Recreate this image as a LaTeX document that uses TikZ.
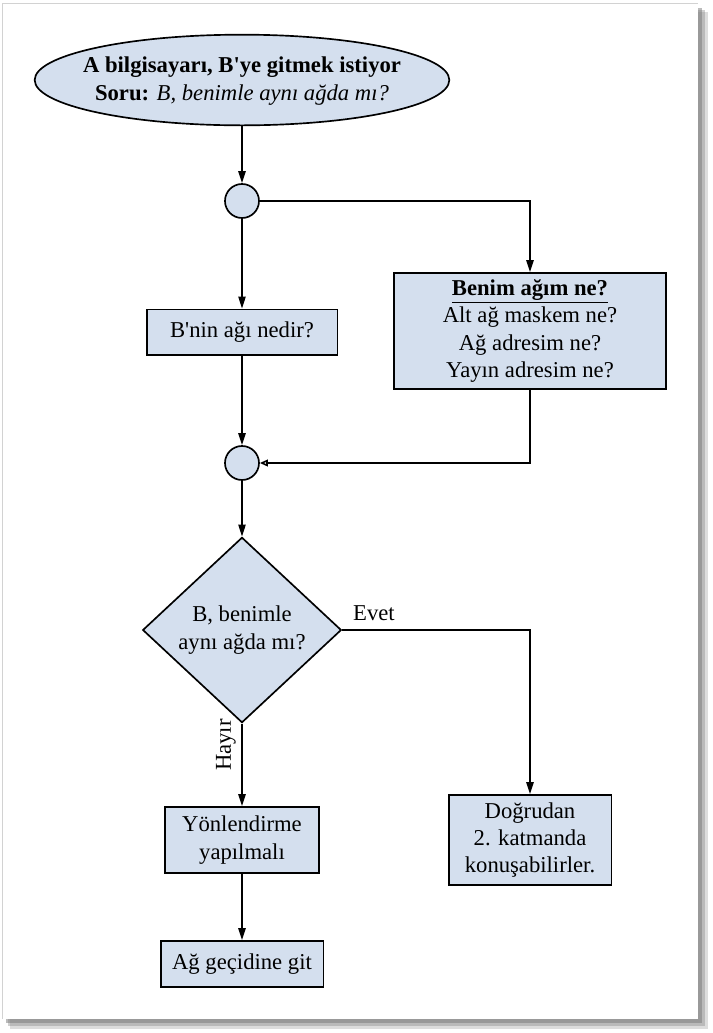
\documentclass[tikz,border=0pt]{standalone}
\usepackage{fontspec}
\setmainfont{Liberation Serif}
\usetikzlibrary{arrows.meta,shapes.geometric}
\definecolor{boxfill}{RGB}{212,223,238}
\definecolor{shadowgray}{RGB}{120,120,120}
\begin{document}
\begin{tikzpicture}[x=0.75pt,y=-0.75pt,
  every node/.style={font=\fontsize{17}{20.5}\selectfont, align=center},
  box/.style={draw=black, line width=1.25pt, fill=boxfill, inner sep=0pt},
  joint/.style={draw=black, line width=1.25pt, fill=boxfill, ellipse, inner sep=0pt, minimum width=25.5pt, minimum height=25.5pt},
  arr/.style={line width=1.2pt, -{Triangle[length=9pt,width=5.5pt]}},
  arropen/.style={line width=1.2pt, -{Triangle[open,length=6pt,width=5pt,fill=white]}},
  lbl/.style={font=\fontsize{17}{20.5}\selectfont}
]
\useasboundingbox (0,0) rectangle (713,1033);
% page with shadow
\fill[shadowgray, opacity=0.25] (10,12) rectangle (708,1029);
\fill[shadowgray, opacity=0.35] (8,10) rectangle (705,1026);
\fill[shadowgray, opacity=0.5] (6,8) rectangle (702,1023);
\fill[white] (2,3) rectangle (698,1019);
\draw[gray!35, line width=0.6pt] (2,1019) -- (2,3) -- (698,3);

% nodes
\node[box, ellipse, minimum width=311pt, minimum height=68pt] (start) at (242,80) {};
\node (starttext) at (242,81)
  {\textbf{A bilgisayarı, B\textquotesingle ye gitmek istiyor}\\\textbf{Soru:} \textit{B, benimle aynı ağda mı?}};
\node[joint] (c1) at (242,201) {};
\node[box, minimum width=143pt, minimum height=34pt] (bnin) at (242,332) {B\textquotesingle nin ağı nedir?};
\node[box, minimum width=204pt, minimum height=87pt] (mine) at (530,331)
  {\underline{\textbf{Benim ağım ne?}}\\Alt ağ maskem ne?\\Ağ adresim ne?\\Yayın adresim ne?};
\node[joint] (c2) at (242,463) {};
\node[box, diamond, minimum width=149pt, minimum height=139pt] (same) at (242,630)
  {B, benimle\\aynı ağda mı?};
\node[box, minimum width=115.5pt, minimum height=49.5pt] (route) at (242,840) {Yönlendirme\\yapılmalı};
\node[box, minimum width=122pt, minimum height=67.5pt] (direct) at (530,840) {Doğrudan\\2. katmanda\\konuşabilirler.};
\node[box, minimum width=122pt, minimum height=34.5pt] (gate) at (242,964) {Ağ geçidine git};

% connectors
\draw[arr] (start.south) -- (c1.north);
\draw[arr] (c1.east) -| (mine.north);
\draw[arr] (c1.south) -- (bnin.north);
\draw[arr] (bnin.south) -- (c2.north);
\draw[arropen] (mine.south) |- (c2.east);
\draw[arr] (c2.south) -- (same.north);
\draw[arr] (same.east) -| (direct.north);
\draw[arr] (same.south) -- (route.north);
\draw[arr] (route.south) -- (gate.north);

% labels
\node[lbl] (evet) at (374,613) {Evet};
\node[lbl, rotate=90] (hayir) at (226,745) {Hayır};
\end{tikzpicture}
\end{document}
